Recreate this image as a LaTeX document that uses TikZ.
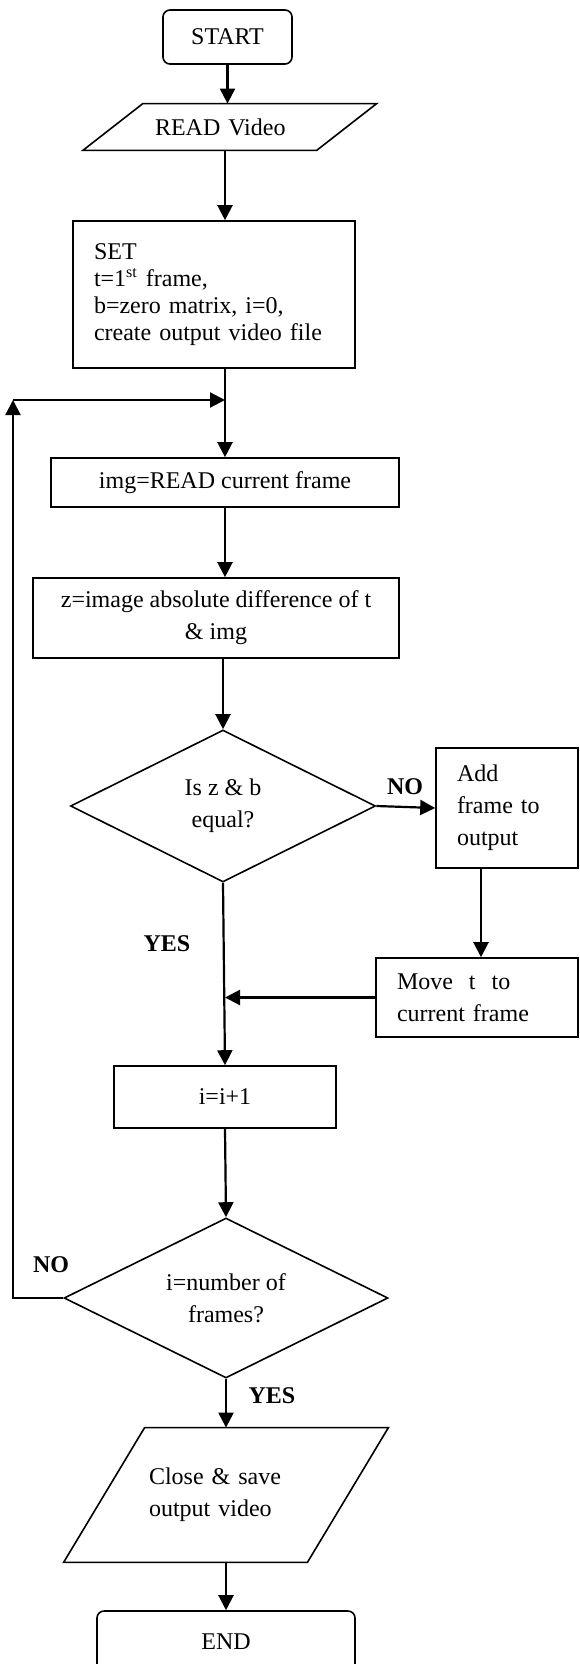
\documentclass[tikz,border=0pt]{standalone}
\usepackage{fontspec}
\setmainfont{Liberation Serif}
\usetikzlibrary{arrows.meta,shapes.geometric,calc}

\tikzset{
  txt/.style={font=\fontsize{12pt}{16pt}\selectfont, inner sep=0pt},
  procbox/.style={txt, draw, line width=0.8pt, rectangle, align=center},
  termbox/.style={procbox, rounded corners=3.5pt},
  decision/.style={txt, draw, line width=0.8pt, diamond, aspect=2, align=center},
  iobox/.style={txt, rectangle},
  iooutline/.style={line width=0.8pt, line join=miter},
  flow/.style={line width=1.1pt, -{Triangle[length=7.5pt,width=7.5pt]}},
  branchlabel/.style={inner sep=0pt, font=\fontsize{12pt}{16pt}\selectfont\bfseries, anchor=base},
}

\begin{document}
\begin{tikzpicture}[x=0.5pt,y=-0.5pt]
\useasboundingbox (0,0) rectangle (579,1664);

% main column and loop-back corner
\coordinate (col) at (225,0);
\coordinate (loop) at (13,400);

% nodes
\node[termbox, minimum width=64.5pt, minimum height=27pt] (start) at (227.5,37) {START};

\node[iobox, minimum height=23pt, text width=74.75pt, inner xsep=20.875pt, align=left] (read) at (229.75,127) {READ Video};
\draw[iooutline] ([xshift=15pt]read.north west) -- ([xshift=15pt]read.north east)
  -- ([xshift=-15pt]read.south east) -- ([xshift=-15pt]read.south west) -- cycle;

\node[procbox, font=\fontsize{12pt}{13.5pt}\selectfont, text width=120pt, inner xsep=10.5pt,
  align=left, minimum height=73.5pt] (set) at (214,294.5)
  {SET\\ t=1\textsuperscript{st} frame,\\ b=zero matrix, i=0,\\ create output video file};

\node[procbox, minimum width=174pt, minimum height=24.5pt] (img) at (225,482.5) {img=READ current frame};

\node[procbox, minimum width=183pt, minimum height=40pt] (diff) at (216,618)
  {z=image absolute difference of t\\ \& img};

\node[decision, minimum width=152.5pt, minimum height=76pt] (same) at (223,806) {Is z \& b\\ equal?};

\node[procbox, minimum height=60pt, text width=50pt, inner xsep=10.5pt, align=left] (add) at (507,808)
  {Add\\ frame to\\ output};

\node[procbox, minimum height=39.5pt, text width=80pt, inner xsep=10.5pt, align=left] (move) at (477,997.5)
  {Move\ \ t\ \ to\\ current frame};

\node[procbox, minimum width=111pt, minimum height=31pt] (inc) at (225,1097) {i=i+1};

\node[decision, minimum width=162pt, minimum height=80pt] (last) at (226,1298) {i=number of\\ frames?};

\node[iobox, minimum height=67pt, text width=77pt, inner xsep=22.25pt, align=left] (save) at (226,1495)
  {Close \& save\\ output video};
\draw[iooutline] ([xshift=20.25pt]save.north west) -- ([xshift=20.25pt]save.north east)
  -- ([xshift=-20.25pt]save.south east) -- ([xshift=-20.25pt]save.south west) -- cycle;

\node[termbox, minimum width=129pt, minimum height=30.5pt] (end) at (226,1641.5) {END};

% branch labels
\node[branchlabel] (no1) at (405,794) {NO};
\node[branchlabel] (yes1) at (167,951) {YES};
\node[branchlabel] (no2) at (51,1272) {NO};
\node[branchlabel] (yes2) at (272,1403) {YES};

% connectors
\draw[flow] (start.south) -- (start.south |- read.north);
\draw[flow] (read.south -| col) -- (set.north -| col);
\draw[flow] (set.south -| col) -- (img.north -| col);
\draw[flow] (img.south -| col) -- (diff.north -| col);
\draw[flow] (diff.south -| same.north) -- (same.north);
\draw[flow] (same.east) -- (add.west);
\draw[flow] ([xshift=-13pt]add.south) -- ([xshift=-13pt]add.south |- move.north);
\draw[flow] (move.west) -- (move.west -| col);
\draw[flow] (same.south) -- (inc.north);
\draw[flow] (inc.south) -- (last.north);
\draw[flow] (last.west) -| (loop);
\draw[flow] (loop) -- (loop -| col);
\draw[flow] (last.south) -- (save.north);
\draw[flow] (save.south) -- (end.north);
\end{tikzpicture}
\end{document}
